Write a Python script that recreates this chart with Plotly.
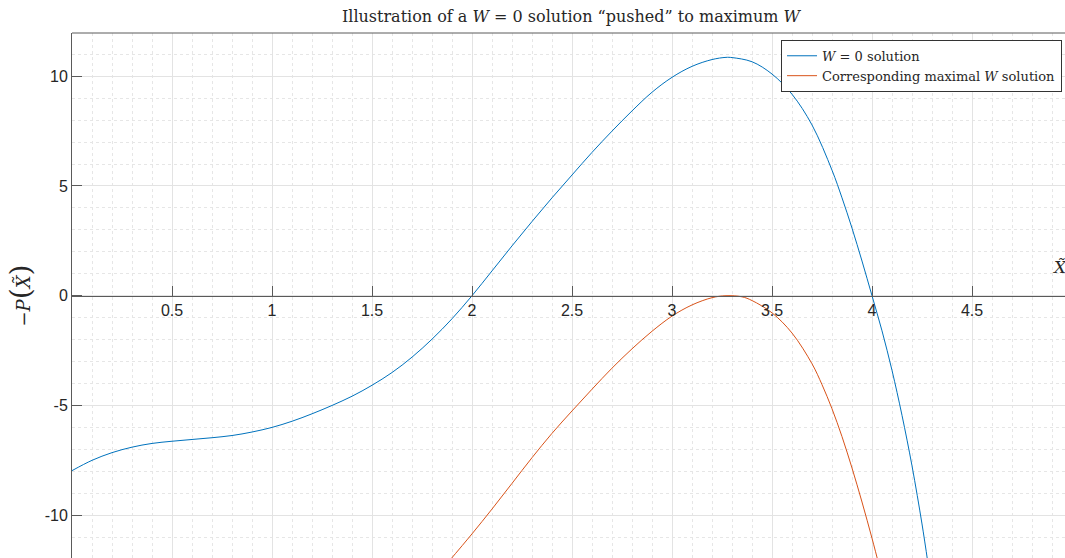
import plotly.graph_objects as go

# W = 0 solution, -P(X~) sampled along X~
X_W0 = [0.0, 0.1, 0.2, 0.3, 0.4, 0.5, 0.6, 0.7, 0.8, 0.9, 1.0, 1.1, 1.2, 1.3,
        1.4, 1.5, 1.6, 1.7, 1.8, 1.9, 2.0, 2.1, 2.2, 2.3, 2.4, 2.5, 2.6, 2.7,
        2.8, 2.9, 3.0, 3.1, 3.2, 3.27, 3.3, 3.4, 3.5, 3.6, 3.7, 3.8, 3.85,
        3.9, 3.95, 4.0, 4.05, 4.1, 4.15, 4.2, 4.25, 4.28]
Y_W0 = [-7.97, -7.5, -7.15, -6.9, -6.73, -6.63, -6.55, -6.47, -6.37, -6.21,
        -6.0, -5.72, -5.38, -5.0, -4.58, -4.08, -3.5, -2.8, -1.98, -1.05,
        0.0, 1.13, 2.27, 3.38, 4.46, 5.5, 6.53, 7.5, 8.42, 9.27, 9.95, 10.45,
        10.76, 10.86, 10.85, 10.66, 10.1, 9.18, 7.78, 5.72, 4.46, 3.08, 1.58,
        0.0, -1.6, -3.4, -5.45, -7.75, -10.4, -12.2]

# Corresponding maximal W solution
X_MAX = [1.88, 2.0, 2.1, 2.2, 2.3, 2.4, 2.5, 2.6, 2.7, 2.8, 2.9, 3.0, 3.1,
         3.2, 3.27, 3.35, 3.4, 3.5, 3.6, 3.7, 3.75, 3.8, 3.85, 3.9, 3.95, 4.0,
         4.04]
Y_MAX = [-12.15, -10.85, -9.72, -8.55, -7.38, -6.27, -5.25, -4.26, -3.3,
         -2.42, -1.62, -0.93, -0.42, -0.09, 0.0, -0.05, -0.22, -0.78, -1.7,
         -3.1, -4.05, -5.15, -6.42, -7.85, -9.4, -11.05, -12.45]

X_TICKS = [0.5, 1, 1.5, 2, 2.5, 3, 3.5, 4, 4.5]
X_TICK_TEXT = ["0.5", "1", "1.5", "2", "2.5", "3", "3.5", "4", "4.5"]
Y_TICKS = [-10, -5, 0, 5, 10]
Y_TICK_TEXT = ["-10", "-5", "0", "5", "10"]

X_RANGE = [0, 4.965]
Y_RANGE = [-11.95, 11.97]

SERIF = "DejaVu Serif"
SANS = "Liberation Sans, Arial"
AXIS_GRAY = "#5a5a5a"
GRID = "#e3e3e3"
MINOR_GRID = "#e6e6e6"

fig = go.Figure()
fig.add_trace(go.Scatter(
    x=X_W0, y=Y_W0, mode="lines", name="<i>W</i> = 0 solution",
    line=dict(color="#0072BD", width=1, shape="spline", smoothing=1.0),
))
fig.add_trace(go.Scatter(
    x=X_MAX, y=Y_MAX, mode="lines",
    name="Corresponding maximal <i>W</i> solution",
    line=dict(color="#D95319", width=1, shape="spline", smoothing=1.0),
))

# fraction of the plot height where y = 0 sits, so the x axis crosses there
zero_pos = (0 - Y_RANGE[0]) / (Y_RANGE[1] - Y_RANGE[0])

fig.update_layout(
    width=1065, height=558,
    margin=dict(l=72, r=0, t=33, b=0, autoexpand=False),
    paper_bgcolor="white", plot_bgcolor="white",
    showlegend=True,
    title=dict(
        text="Illustration of a <i>W</i> = 0 solution “pushed” to maximum <i>W</i>",
        x=571 / 1065, xanchor="center", y=1 - 16 / 558, yanchor="middle",
        font=dict(family=SERIF, size=16, color="#262626"),
    ),
    legend=dict(
        x=0.997, xanchor="right", y=0.987, yanchor="top",
        bgcolor="white", bordercolor="#333333", borderwidth=1,
        font=dict(family=SERIF, size=13, color="#262626"),
        itemwidth=30, tracegroupgap=0,
    ),
    xaxis=dict(
        range=X_RANGE, tickvals=X_TICKS, ticktext=X_TICK_TEXT,
        anchor="free", position=zero_pos, side="bottom",
        showline=True, linecolor=AXIS_GRAY, linewidth=1,
        ticks="inside", ticklen=10, tickcolor=AXIS_GRAY, tickwidth=1,
        tickfont=dict(family=SANS, size=16, color="#262626"),
        showgrid=True, gridcolor=GRID, gridwidth=1, zeroline=False,
        minor=dict(dtick=0.1, tick0=0, showgrid=True, gridcolor=MINOR_GRID,
                   griddash="dot", gridwidth=1),
        automargin=False,
    ),
    yaxis=dict(
        range=Y_RANGE, tickvals=Y_TICKS, ticktext=Y_TICK_TEXT,
        showline=True, linecolor=AXIS_GRAY, linewidth=1,
        ticks="inside", ticklen=10, tickcolor=AXIS_GRAY, tickwidth=1,
        tickfont=dict(family=SANS, size=16, color="#262626"),
        showgrid=True, gridcolor=GRID, gridwidth=1, zeroline=False,
        minor=dict(dtick=1, tick0=0, showgrid=True, gridcolor=MINOR_GRID,
                   griddash="dot", gridwidth=1),
        automargin=False,
    ),
)

# top edge of the axes box
fig.add_shape(type="line", xref="paper", yref="paper", x0=0, x1=1, y0=1, y1=1,
              line=dict(color=AXIS_GRAY, width=1))

# axis labels
fig.add_annotation(
    xref="paper", yref="paper", x=-52 / 993, y=0.5, textangle=-90,
    text="−<i>P</i><span style='font-size:28px'>(</span><i>X̃</i><span style='font-size:28px'>)</span>",
    showarrow=False, font=dict(family=SERIF, size=18, color="#262626"),
    xanchor="center", yanchor="middle",
)
fig.add_annotation(
    xref="paper", yref="y", x=(1059 - 72) / 993, y=1.3,
    text="<i>X̃</i>", showarrow=False,
    font=dict(family=SERIF, size=17, color="#262626"),
    xanchor="center", yanchor="middle",
)

fig.write_html("out.html")
